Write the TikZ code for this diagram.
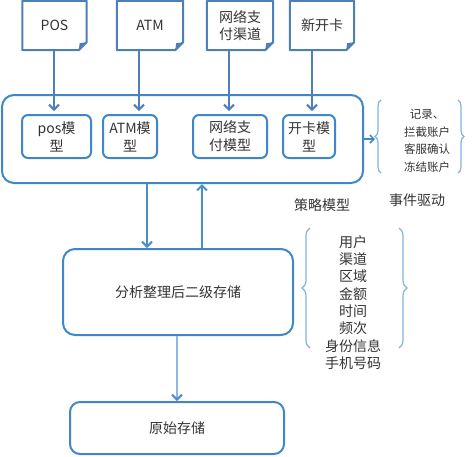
\documentclass[tikz,border=0pt]{standalone}
\usepackage{fontspec}
\setmainfont{Noto Sans CJK SC}
\usetikzlibrary{arrows.meta,decorations.pathreplacing,calc}
\definecolor{docblue}{HTML}{4F7FB8}
\definecolor{boxblue}{HTML}{3F87C9}
\definecolor{arrblue}{HTML}{4A8ED0}
\definecolor{lightblue}{HTML}{8DB9E2}
\definecolor{bracecol}{HTML}{7FB2E0}
\definecolor{txt}{HTML}{333333}
\begin{document}
\begin{tikzpicture}[x=1pt,y=-1pt,
  every node/.style={text=txt},
  docnode/.style={minimum height=49pt,inner sep=0pt,align=center,font=\fontsize{14}{17}\selectfont},
  docline/.style={draw=docblue,line width=2pt,line join=round},
  inbox/.style={draw=boxblue,line width=2pt,rounded corners=6pt,minimum height=43pt,inner sep=0pt,align=center,font=\fontsize{14}{18}\selectfont},
  bigbox/.style={draw=boxblue,line width=2pt,rounded corners=12pt,inner sep=0pt,align=center,font=\fontsize{14}{17}\selectfont},
  feedarr/.style={draw=docblue,line width=2pt,-{Straight Barb[length=5pt,width=10pt,line width=2pt]}},
  arr/.style={draw=arrblue,line width=1.5pt,-{Straight Barb[length=5pt,width=10pt,line width=2pt]}},
  lightarr/.style={draw=lightblue,line width=2pt,-{Straight Barb[length=5pt,width=10pt,line width=2pt,arrblue]}},
  bracestyle/.style={draw=bracecol,line width=1.2pt,decorate},
  label/.style={font=\fontsize{14}{17}\selectfont,inner sep=0pt}
]
\useasboundingbox (0,0) rectangle (472,456);

% source documents
\node[docnode,minimum width=64pt] (pos) at (54.5,25.5) {POS};
\node[docnode,minimum width=66pt] (atm) at (150,25.5) {ATM};
\node[docnode,minimum width=66pt] (net) at (240,25.5) {网络支\\付渠道};
\node[docnode,minimum width=64pt] (card) at (322,25.5) {新开卡};
\foreach \d in {pos,atm,net,card}{
  \draw[docline] (\d.north west) -- (\d.north east) -- ([yshift=8pt]\d.south east)
     -- ([xshift=-8pt]\d.south east) -- (\d.south west) -- cycle;
  \fill[docblue] ([yshift=8pt]\d.south east) -- ([xshift=-8pt]\d.south east)
     -- ([xshift=-7pt,yshift=7pt]\d.south east) -- cycle;
}

% strategy model container
\node[bigbox,minimum width=361pt,minimum height=88pt] (outer) at (182.5,139) {};
\node[inbox,minimum width=69pt] (inpos) at (56.5,136.5) {pos模\\型};
\node[inbox,minimum width=54pt] (inatm) at (130,136.5) {ATM模\\型};
\node[inbox,minimum width=74pt] (innet) at (230,136.5) {网络支\\付模型};
\node[inbox,minimum width=52pt] (incard) at (309,136.5) {开卡模\\型};

% feeds
\draw[feedarr] ([xshift=-0.5pt]pos.south) -- ([xshift=-2.5pt,yshift=3pt]inpos.north);
\draw[feedarr] ([xshift=-11pt]atm.south) -- ([xshift=9pt,yshift=3pt]inatm.north);
\draw[feedarr] ([xshift=-11pt]net.south) -- ([xshift=-1pt,yshift=3pt]innet.north);
\draw[feedarr] ([xshift=-10pt]card.south) -- ([xshift=3pt,yshift=3pt]incard.north);

% event braces
\coordinate (b1t) at (381,100);
\coordinate (b1b) at (381,173);
\coordinate (b1rt) at (458,100);
\coordinate (b1rb) at (458,173);
\draw[bracestyle,decoration={brace,amplitude=6pt}] (b1b) -- (b1t);
\draw[bracestyle,decoration={brace,amplitude=6pt}] (b1rt) -- (b1rb);
\coordinate (b1tip) at (375,139);
\draw[draw=boxblue,line width=1.5pt,-{Straight Barb[length=4pt,width=8pt,line width=1.5pt]}] (outer.east) -- (b1tip);
\node[align=center,font=\fontsize{11.5}{17.5}\selectfont,inner sep=0pt] (events) at (427,141) {记录、\\拦截账户\\客服确认\\冻结账户};

\node[label] (strat) at (322,205) {策略模型};
\node[label] (drive) at (417,200) {事件驱动};

% analysis storage
\node[bigbox,minimum width=230pt,minimum height=86pt] (ana) at (178,292) {分析整理后二级存储};
\draw[arr] ([xshift=-35.5pt]outer.south) -- ([xshift=-31pt]ana.north);
\draw[arr] ([xshift=24pt]ana.north) -- ([xshift=19.5pt]outer.south);

\coordinate (b2t) at (310,228);
\coordinate (b2b) at (310,348);
\coordinate (b2rt) at (399,228);
\coordinate (b2rb) at (399,348);
\draw[bracestyle,decoration={brace,amplitude=8pt}] (b2b) -- (b2t);
\draw[bracestyle,decoration={brace,amplitude=8pt}] (b2rt) -- (b2rb);
\node[align=center,font=\fontsize{14}{17.3}\selectfont,inner sep=0pt] (dims) at (353,302.5) {用户\\渠道\\区域\\金额\\时间\\频次\\身份信息\\手机号码};

% raw storage
\node[bigbox,rounded corners=10pt,minimum width=214pt,minimum height=52pt] (raw) at (177,428) {原始存储};
\draw[lightarr] ([xshift=-1pt]ana.south) -- (raw.north);
\end{tikzpicture}
\end{document}
